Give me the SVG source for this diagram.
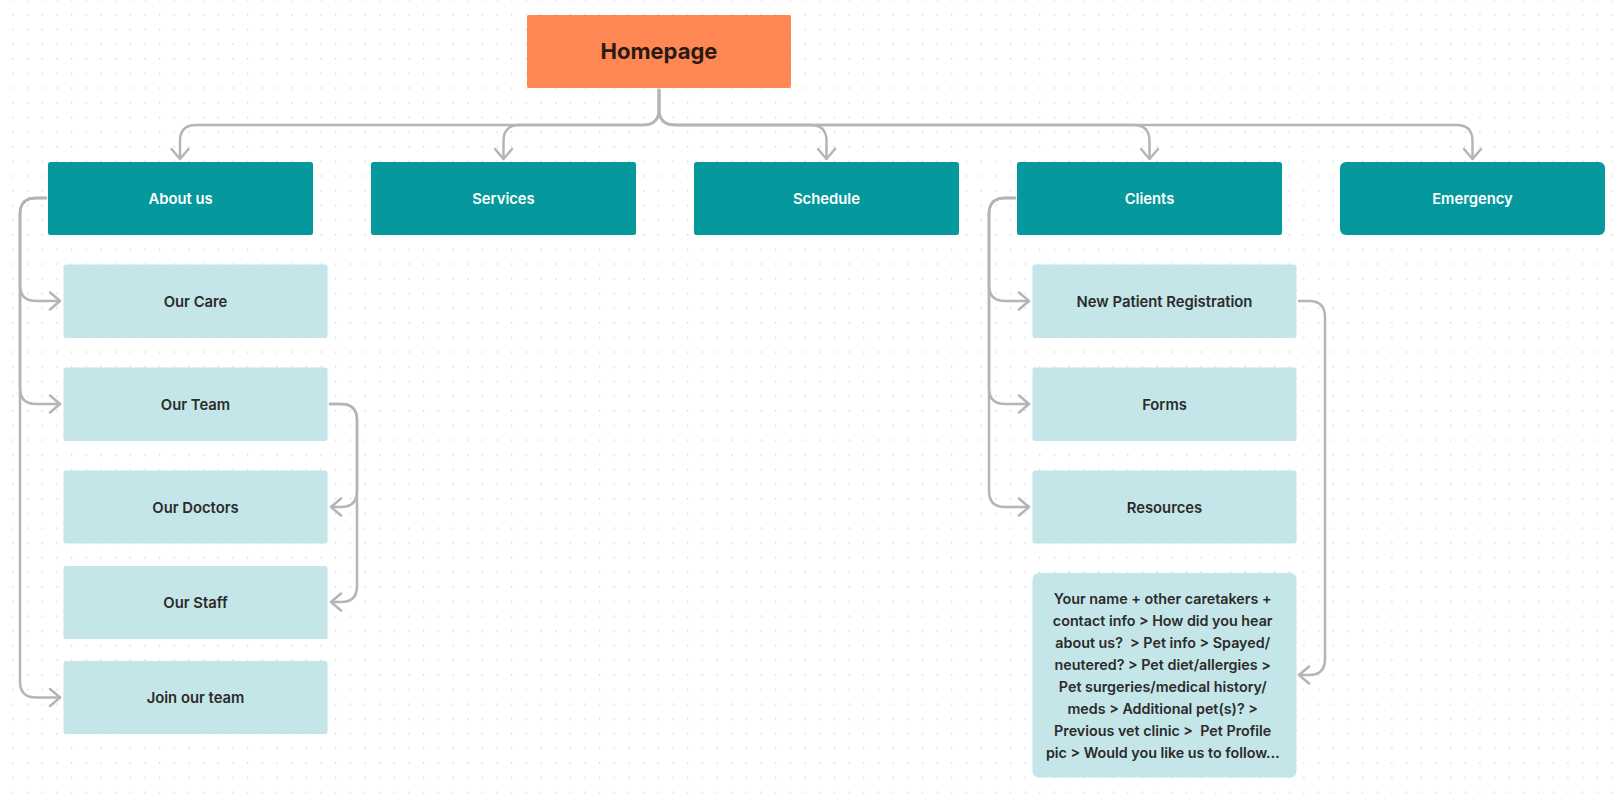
<svg xmlns="http://www.w3.org/2000/svg" width="1619" height="804" viewBox="0 0 1619 804">
<style>
.bg{fill:#ffffff}
.root{fill:#FF8753}
.l1{fill:#05999E}
.l2{fill:#C5E6E8}
text{font-family:Inter,"Liberation Sans","Noto Sans",sans-serif;font-weight:600;font-size:14.8px;text-anchor:middle}
.t1{fill:#ffffff}
.t2{fill:#2b2b2b}
.th{fill:#2a1b12;font-size:22px;font-weight:700}
.long{font-size:14.3px}
.pre{white-space:pre}
.conn path{fill:none;stroke:#B5B5B5;stroke-width:2.5;stroke-linecap:round;stroke-linejoin:round;marker-end:url(#arr)}
</style>
<defs>
<pattern id="dots" patternUnits="userSpaceOnUse" x="12.25" y="-0.65" width="14.67" height="14.67">
<rect x="0" y="0" width="1.3" height="1.3" fill="#cfcfcf"/>
</pattern>
<marker id="arr" markerUnits="userSpaceOnUse" viewBox="-12 -10 14 20" refX="0" refY="0" markerWidth="14" markerHeight="20" orient="auto">
<path d="M-10,-8.5 L0,0 L-10,8.5" fill="none" stroke="#B5B5B5" stroke-width="2.5" stroke-linecap="round" stroke-linejoin="round"/>
</marker>
</defs>
<rect class="bg" x="0" y="0" width="1619" height="804"/>
<rect x="0" y="0" width="1619" height="804" fill="url(#dots)"/>

<g id="connectors" class="conn">
<path d="M659,90 V109 Q659,125 643,125 H196 Q180,125 180,141 V159"/>
<path d="M659,90 V109 Q659,125 643,125 H519.5 Q503.5,125 503.5,141 V159"/>
<path d="M659,90 V109 Q659,125 675,125 H810.5 Q826.5,125 826.5,141 V159"/>
<path d="M659,90 V109 Q659,125 675,125 H1133.5 Q1149.5,125 1149.5,141 V159"/>
<path d="M659,90 V109 Q659,125 675,125 H1456.5 Q1472.5,125 1472.5,141 V159"/>
<path d="M46,198 H36 Q20,198 20,214 V285 Q20,301 36,301 H60"/>
<path d="M46,198 H36 Q20,198 20,214 V388 Q20,404 36,404 H60"/>
<path d="M46,198 H36 Q20,198 20,214 V681.5 Q20,697.5 36,697.5 H60"/>
<path d="M330,404 H341 Q357,404 357,420 V491 Q357,507 341,507 H331"/>
<path d="M330,404 H341 Q357,404 357,420 V586 Q357,602 341,602 H331"/>
<path d="M1015,198 H1005 Q989,198 989,214 V285 Q989,301 1005,301 H1029"/>
<path d="M1015,198 H1005 Q989,198 989,214 V388 Q989,404 1005,404 H1029"/>
<path d="M1015,198 H1005 Q989,198 989,214 V491 Q989,507 1005,507 H1029"/>
<path d="M1299,301 H1309 Q1325,301 1325,317 V659 Q1325,675 1309,675 H1299"/>
</g>

<g id="homepage">
<rect class="root" x="527" y="15" width="264" height="73" rx="2"/>
<text class="th" x="659" y="59">Homepage</text>
</g>

<g id="about-us">
<rect class="l1" x="48" y="162" width="265" height="73" rx="2.5"/>
<text class="t1" x="180.5" y="204">About us</text>
</g>
<g id="services">
<rect class="l1" x="371" y="162" width="265" height="73" rx="2.5"/>
<text class="t1" x="503.5" y="204">Services</text>
</g>
<g id="schedule">
<rect class="l1" x="694" y="162" width="265" height="73" rx="2.5"/>
<text class="t1" x="826.5" y="204">Schedule</text>
</g>
<g id="clients">
<rect class="l1" x="1017" y="162" width="265" height="73" rx="2.5"/>
<text class="t1" x="1149.5" y="204">Clients</text>
</g>
<g id="emergency">
<rect class="l1" x="1340" y="162" width="265" height="73" rx="6"/>
<text class="t1" x="1472.5" y="204">Emergency</text>
</g>

<g id="our-care">
<rect class="l2" x="63.5" y="264.5" width="264" height="73.5" rx="2.5"/>
<text class="t2" x="195.5" y="306.5">Our Care</text>
</g>
<g id="our-team">
<rect class="l2" x="63.5" y="367.5" width="264" height="73.5" rx="2.5"/>
<text class="t2" x="195.5" y="409.5">Our Team</text>
</g>
<g id="our-doctors">
<rect class="l2" x="63.5" y="470.5" width="264" height="73" rx="2.5"/>
<text class="t2" x="195.5" y="512.5">Our Doctors</text>
</g>
<g id="our-staff">
<rect class="l2" x="63.5" y="566" width="264" height="73" rx="2.5"/>
<text class="t2" x="195.5" y="607.5">Our Staff</text>
</g>
<g id="join-our-team">
<rect class="l2" x="63.5" y="661" width="264" height="73" rx="2.5"/>
<text class="t2" x="195.5" y="703">Join our team</text>
</g>

<g id="new-patient-registration">
<rect class="l2" x="1032.5" y="264.5" width="264" height="73.5" rx="2.5"/>
<text class="t2" x="1164.5" y="306.5">New Patient Registration</text>
</g>
<g id="forms">
<rect class="l2" x="1032.5" y="367.5" width="264" height="73.5" rx="2.5"/>
<text class="t2" x="1164.5" y="409.5">Forms</text>
</g>
<g id="resources">
<rect class="l2" x="1032.5" y="470.5" width="264" height="73" rx="2.5"/>
<text class="t2" x="1164.5" y="512.5">Resources</text>
</g>
<g id="registration-details">
<rect class="l2" x="1032.5" y="573" width="264" height="204.5" rx="6"/>
<text class="t2 pre long">
<tspan x="1164.5" y="604.2">Your name + other caretakers +</tspan>
<tspan x="1164.5" y="626.2">contact info &gt; How did you hear</tspan>
<tspan x="1164.5" y="648.1">about us?  &gt; Pet info &gt; Spayed/</tspan>
<tspan x="1164.5" y="670.1">neutered? &gt; Pet diet/allergies &gt;</tspan>
<tspan x="1164.5" y="692.1">Pet surgeries/medical history/</tspan>
<tspan x="1164.5" y="714.1">meds &gt; Additional pet(s)? &gt;</tspan>
<tspan x="1164.5" y="736">Previous vet clinic &gt;  Pet Profile</tspan>
<tspan x="1164.5" y="758">pic &gt; Would you like us to follow…</tspan>
</text>
</g>
</svg>
